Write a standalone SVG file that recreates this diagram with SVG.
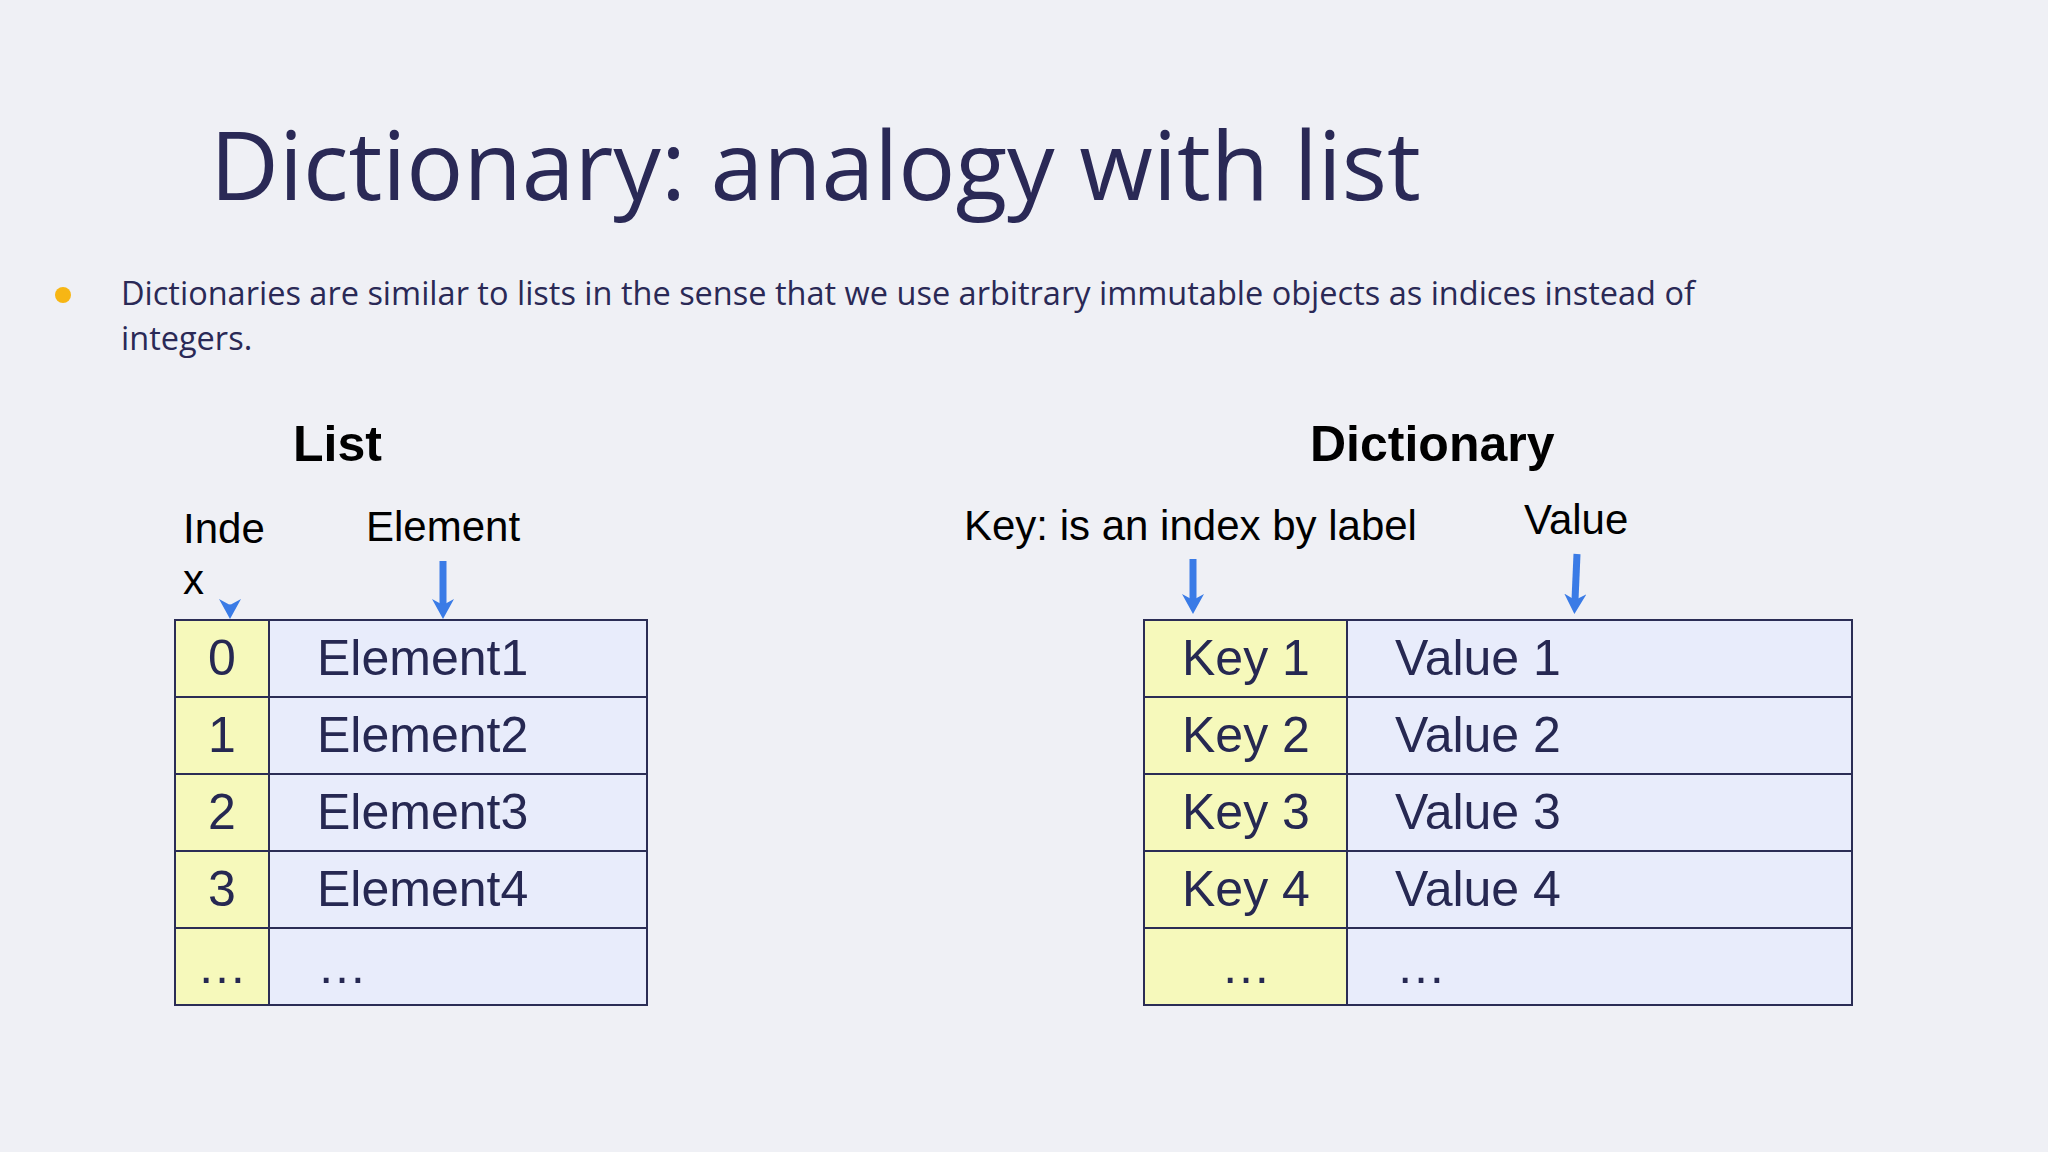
<svg xmlns="http://www.w3.org/2000/svg" width="2048" height="1152" viewBox="0 0 2048 1152">
<defs>
<style>
.bg{fill:#eff0f5}
.title{font-family:"Open Sans","Noto Sans",sans-serif;font-size:95px;fill:#2a2956}
.body{font-family:"Open Sans","Noto Sans",sans-serif;font-size:32.5px;fill:#2a2956}
.hdr{font-family:"Liberation Sans",Arial,sans-serif;font-size:50px;font-weight:bold;fill:#000}
.lbl{font-family:"Liberation Sans",Arial,sans-serif;font-size:42px;fill:#000}
.cell{font-family:"Liberation Sans",Arial,sans-serif;font-size:50px;fill:#262852}
.idx{fill:#f6f9bb;stroke:#2b2d55;stroke-width:2}
.val{fill:#e8ecfb;stroke:#2b2d55;stroke-width:2}
.arr{stroke:#3a7be6;stroke-width:7;fill:none}
.arr0{stroke:#3a7be6;stroke-width:1;fill:none}
</style>
<marker id="ah" viewBox="0 -11 20 22" refX="6" refY="0" markerWidth="20" markerHeight="22" markerUnits="userSpaceOnUse" orient="auto">
<path d="M0,-11 L20,0 L0,11 L6,0 Z" fill="#3a7be6"/>
</marker>
</defs>
<rect class="bg" x="0" y="0" width="2048" height="1152"/>

<g id="title"><text class="title" x="210" y="200">Dictionary: analogy with list</text></g>

<g id="bullet">
<circle cx="63" cy="295" r="8" fill="#f7b614"/>
<text class="body" x="121" y="305">Dictionaries are similar to lists in the sense that we use arbitrary immutable objects as indices instead of</text>
<text class="body" x="121" y="350">integers.</text>
</g>

<g id="list-header">
<text class="hdr" x="293" y="461">List</text>
<text class="lbl" x="183" y="543">Inde</text>
<text class="lbl" x="183" y="594">x</text>
<text class="lbl" x="366" y="541">Element</text>
</g>

<g id="list-table">
<rect class="idx" x="175" y="620" width="94" height="77"/>
<rect class="val" x="269" y="620" width="378" height="77"/>
<rect class="idx" x="175" y="697" width="94" height="77"/>
<rect class="val" x="269" y="697" width="378" height="77"/>
<rect class="idx" x="175" y="774" width="94" height="77"/>
<rect class="val" x="269" y="774" width="378" height="77"/>
<rect class="idx" x="175" y="851" width="94" height="77"/>
<rect class="val" x="269" y="851" width="378" height="77"/>
<rect class="idx" x="175" y="928" width="94" height="77"/>
<rect class="val" x="269" y="928" width="378" height="77"/>
<text class="cell" x="222" y="675" text-anchor="middle">0</text>
<text class="cell" x="317" y="675">Element1</text>
<text class="cell" x="222" y="752" text-anchor="middle">1</text>
<text class="cell" x="317" y="752">Element2</text>
<text class="cell" x="222" y="829" text-anchor="middle">2</text>
<text class="cell" x="317" y="829">Element3</text>
<text class="cell" x="222" y="906" text-anchor="middle">3</text>
<text class="cell" x="317" y="906">Element4</text>
<text class="cell" x="222" y="983" text-anchor="middle">…</text>
<text class="cell" x="317" y="983">…</text>
</g>

<g id="dict-header">
<text class="hdr" x="1310" y="461">Dictionary</text>
<text class="lbl" x="964" y="540">Key: is an index by label</text>
<text class="lbl" x="1524" y="534">Value</text>
</g>

<g id="dict-table">
<rect class="idx" x="1144" y="620" width="203" height="77"/>
<rect class="val" x="1347" y="620" width="505" height="77"/>
<rect class="idx" x="1144" y="697" width="203" height="77"/>
<rect class="val" x="1347" y="697" width="505" height="77"/>
<rect class="idx" x="1144" y="774" width="203" height="77"/>
<rect class="val" x="1347" y="774" width="505" height="77"/>
<rect class="idx" x="1144" y="851" width="203" height="77"/>
<rect class="val" x="1347" y="851" width="505" height="77"/>
<rect class="idx" x="1144" y="928" width="203" height="77"/>
<rect class="val" x="1347" y="928" width="505" height="77"/>
<text class="cell" x="1182" y="675">Key 1</text>
<text class="cell" x="1395" y="675">Value 1</text>
<text class="cell" x="1182" y="752">Key 2</text>
<text class="cell" x="1395" y="752">Value 2</text>
<text class="cell" x="1182" y="829">Key 3</text>
<text class="cell" x="1395" y="829">Value 3</text>
<text class="cell" x="1182" y="906">Key 4</text>
<text class="cell" x="1395" y="906">Value 4</text>
<text class="cell" x="1246" y="983" text-anchor="middle">…</text>
<text class="cell" x="1396" y="983">…</text>
</g>

<g id="connectors">
<line class="arr0" x1="230" y1="604" x2="230" y2="605" marker-end="url(#ah)"/>
<line class="arr" x1="443" y1="561" x2="443" y2="605" marker-end="url(#ah)"/>
<line class="arr" x1="1193" y1="559" x2="1193" y2="600" marker-end="url(#ah)"/>
<line class="arr" x1="1577" y1="554" x2="1575" y2="600" marker-end="url(#ah)"/>
</g>
</svg>
